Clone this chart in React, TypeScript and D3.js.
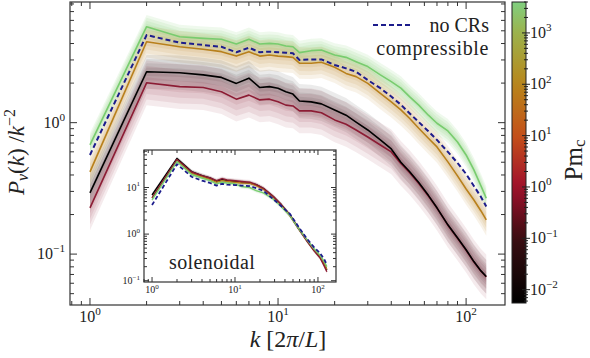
import React, { useEffect, useRef } from 'react';
import * as d3 from 'd3';

// main panel: compressible driving, P_v(k)/k^-2
const kMain = [1, 2, 3, 4, 5, 6, 7, 8, 9, 10, 11, 12, 13, 15, 17, 20, 23, 26, 30, 35, 40, 45, 50, 56, 63, 70, 80, 90, 100, 110, 120, 128];
const pvGreen = [0.677, 5.37, 4.51, 4.38, 4.31, 3.97, 4.31, 3.97, 4.01, 3.97, 3.83, 3.78, 3.41, 3.53, 3.57, 3.27, 3.14, 2.91, 2.67, 2.31, 2.05, 1.83, 1.58, 1.36, 1.14, 0.99, 0.865, 0.713, 0.568, 0.437, 0.33, 0.266];
const pvNoCR = [0.568, 4.64, 4.06, 3.9, 3.78, 3.43, 3.72, 3.43, 3.47, 3.43, 3.41, 3.37, 3.0, 3.03, 3.03, 2.75, 2.59, 2.44, 2.11, 1.83, 1.58, 1.37, 1.18, 1.01, 0.86, 0.739, 0.599, 0.494, 0.407, 0.33, 0.272, 0.23];
const pvOrange = [0.422, 4.13, 3.78, 3.62, 3.47, 3.21, 3.47, 3.21, 3.27, 3.21, 3.18, 3.14, 2.84, 2.83, 2.88, 2.64, 2.37, 2.24, 1.99, 1.67, 1.44, 1.25, 1.08, 0.906, 0.761, 0.654, 0.503, 0.394, 0.313, 0.258, 0.213, 0.182];
const pvBlack = [0.292, 2.44, 2.4, 2.31, 2.21, 1.99, 2.18, 1.85, 1.88, 1.83, 1.72, 1.65, 1.46, 1.44, 1.39, 1.25, 1.14, 1.01, 0.88, 0.739, 0.631, 0.5, 0.425, 0.35, 0.28, 0.225, 0.167, 0.133, 0.108, 0.0877, 0.0745, 0.0675];
const pvMaroon = [0.225, 2.01, 1.88, 1.85, 1.72, 1.51, 1.62, 1.49, 1.51, 1.44, 1.36, 1.34, 1.23, 1.23, 1.19, 1.05, 0.972, 0.88, 0.778, 0.676, 0.599, 0.49, 0.418, 0.345, 0.277, 0.224, 0.166, 0.132, 0.107, 0.087, 0.074, 0.067];

// inset: solenoidal driving
const kIns = [1, 2, 3, 4, 5, 6, 7, 8, 10, 12, 15, 18, 22, 29, 36, 46, 58, 73, 90, 106, 120, 128];
const insBlack = [6.9, 42, 22, 18, 16, 13.5, 15, 14, 13.5, 13, 12.5, 11.5, 9.5, 6.3, 4.3, 2.55, 1.35, 0.74, 0.45, 0.32, 0.22, 0.17];
const insMaroon = [6.0, 40, 21.5, 18, 16, 14, 15.5, 14.5, 14, 13.5, 13, 11.5, 9.6, 6.4, 4.3, 2.55, 1.35, 0.73, 0.44, 0.31, 0.2, 0.156];
const insOrange = [5.9, 39, 20, 17, 15, 13, 14, 13.5, 13, 12.5, 12.5, 11, 9.2, 6.2, 4.2, 2.5, 1.33, 0.74, 0.45, 0.32, 0.22, 0.175];
const insGreen = [5.4, 36, 19, 16, 14, 12, 13, 12.5, 12, 10.5, 10, 8.6, 7.7, 5.6, 3.9, 2.5, 1.35, 0.77, 0.48, 0.35, 0.25, 0.2];
const insNoCR = [4.2, 31.7, 17, 14, 12.5, 11, 12, 11.5, 11.3, 11, 10.7, 9.7, 8.5, 5.6, 4.0, 2.7, 1.45, 0.81, 0.52, 0.39, 0.28, 0.217];

// band half-widths (dex)
const spreadMain = { green: 0.09, orange: 0.12, black: 0.13, maroon: 0.17 };
const spreadIns = 0.05;

// colorbar
const cbLogStops = [-2.26, -1, 0, 1, 2, 3, 3.6];
const cbColors = ['#000000', '#3a0e12', '#a0102c', '#c4501a', '#b8861b', '#9cb24c', '#80d080'];
const cbTicks = [0.01, 0.1, 1, 10, 100, 1000];

const lineColors = { green: '#78cc6e', orange: '#b8801c', black: '#000000', maroon: '#8c1c34', nocr: '#1c1c8c' };
const FONT = 'Liberation Serif, serif';

function logTicks(lo, hi) {
  const major = [], minor = [];
  for (let e = Math.floor(Math.log10(lo)); e <= Math.ceil(Math.log10(hi)); e++) {
    for (let d = 1; d <= 9; d++) {
      const v = d * Math.pow(10, e);
      if (v < lo * 0.999 || v > hi * 1.001) continue;
      (d === 1 ? major : minor).push(v);
    }
  }
  return { major, minor };
}

function powLabel(g, x, y, exp, size, anchor) {
  const t = g.append('text').attr('x', x).attr('y', y).attr('text-anchor', anchor)
    .style('font-family', FONT).attr('font-size', size).attr('fill', '#222');
  t.append('tspan').text('10');
  t.append('tspan').attr('dy', -size * 0.42).attr('font-size', size * 0.7).text(exp < 0 ? '\u2212' + (-exp) : String(exp));
  return t;
}

function frame(g, x, y, x0, x1, y0, y1, majLen, minLen) {
  const xt = logTicks(...x.domain());
  const yt = logTicks(...y.domain());
  const tk = g.append('g').attr('stroke', '#333').attr('stroke-width', 1);
  const put = (vals, len, isX) => vals.forEach(v => {
    if (isX) {
      const p = x(v);
      tk.append('line').attr('x1', p).attr('x2', p).attr('y1', y1).attr('y2', y1 - len);
      tk.append('line').attr('x1', p).attr('x2', p).attr('y1', y0).attr('y2', y0 + len);
    } else {
      const p = y(v);
      tk.append('line').attr('y1', p).attr('y2', p).attr('x1', x0).attr('x2', x0 + len);
      tk.append('line').attr('y1', p).attr('y2', p).attr('x1', x1).attr('x2', x1 - len);
    }
  });
  put(xt.major, majLen, true);
  put(xt.minor, minLen, true);
  put(yt.major, majLen, false);
  put(yt.minor, minLen, false);
  g.append('rect').attr('x', x0).attr('y', y0).attr('width', x1 - x0).attr('height', y1 - y0)
    .attr('fill', 'none').attr('stroke', '#333').attr('stroke-width', 1.2);
  return { xt, yt };
}

function bands(g, x, y, k, vals, color, s, clip, op) {
  [1, 0.75, 0.5, 0.25].forEach(f => {
    const area = d3.area()
      .x((d, i) => x(k[i]))
      .y0(d => y(d * Math.pow(10, -s * f)))
      .y1(d => y(d * Math.pow(10, s * f)));
    g.append('path').datum(vals).attr('d', area).attr('fill', color)
      .attr('fill-opacity', op).attr('clip-path', clip);
  });
}

function curve(g, x, y, k, vals, color, w, dash) {
  const line = d3.line().x((d, i) => x(k[i])).y(d => y(d));
  const p = g.append('path').datum(vals).attr('d', line).attr('fill', 'none')
    .attr('stroke', color).attr('stroke-width', w).attr('stroke-linejoin', 'round');
  if (dash) p.attr('stroke-dasharray', dash);
}

const App = () => {
  const svgRef = useRef(null);

  useEffect(() => {
    const svg = d3.select(svgRef.current);
    svg.selectAll('*').remove();

    const L = 70, R = 505, T = 2, B = 305;
    const x = d3.scaleLog().domain([0.783, 161]).range([L, R]);
    const y = d3.scaleLog().domain([0.041, 8.28]).range([B, T]);

    const defs = svg.append('defs');
    defs.append('clipPath').attr('id', 'mainclip').append('rect')
      .attr('x', L).attr('y', T).attr('width', R - L).attr('height', B - T);

    const main = svg.append('g');

    // shaded spreads
    bands(main, x, y, kMain, pvGreen, lineColors.green, spreadMain.green, 'url(#mainclip)', 0.12);
    bands(main, x, y, kMain, pvOrange, lineColors.orange, spreadMain.orange, 'url(#mainclip)', 0.1);
    bands(main, x, y, kMain, pvBlack, '#000', spreadMain.black, 'url(#mainclip)', 0.08);
    bands(main, x, y, kMain, pvMaroon, lineColors.maroon, spreadMain.maroon, 'url(#mainclip)', 0.09);

    curve(main, x, y, kMain, pvGreen, lineColors.green, 1.6);
    curve(main, x, y, kMain, pvOrange, lineColors.orange, 1.6);
    curve(main, x, y, kMain, pvMaroon, lineColors.maroon, 1.6);
    curve(main, x, y, kMain, pvBlack, lineColors.black, 1.6);
    curve(main, x, y, kMain, pvNoCR, lineColors.nocr, 2, '5,3');

    const { xt, yt } = frame(main, x, y, L, R, T, B, 7, 4);
    xt.major.forEach(v => powLabel(main, x(v), 322, Math.round(Math.log10(v)), 16, 'middle'));
    yt.major.forEach(v => powLabel(main, 65, y(v) + 5, Math.round(Math.log10(v)), 16, 'end'));

    // axis labels
    const yl = main.append('text').attr('transform', 'translate(24,152) rotate(-90)')
      .attr('text-anchor', 'middle').style('font-family', FONT).attr('font-size', 23).attr('fill', '#222');
    yl.append('tspan').attr('font-style', 'italic').text('P');
    yl.append('tspan').attr('font-style', 'italic').attr('font-size', 16).attr('dy', 4).text('v');
    yl.append('tspan').attr('dy', -4).text('(');
    yl.append('tspan').attr('font-style', 'italic').text('k');
    yl.append('tspan').text(')  /');
    yl.append('tspan').attr('font-style', 'italic').text('k');
    yl.append('tspan').attr('font-size', 16).attr('dy', -9).text('\u22122');

    const xl = main.append('text').attr('x', 288).attr('y', 347).attr('text-anchor', 'middle')
      .style('font-family', FONT).attr('font-size', 24).attr('fill', '#222');
    xl.append('tspan').attr('font-style', 'italic').text('k');
    xl.append('tspan').text(' [2');
    xl.append('tspan').attr('font-style', 'italic').text('\u03c0');
    xl.append('tspan').text('/');
    xl.append('tspan').attr('font-style', 'italic').text('L');
    xl.append('tspan').text(']');

    // legend
    main.append('line').attr('x1', 373).attr('x2', 413).attr('y1', 25).attr('y2', 25)
      .attr('stroke', lineColors.nocr).attr('stroke-width', 2).attr('stroke-dasharray', '5,3');
    main.append('text').attr('x', 489).attr('y', 32).attr('text-anchor', 'end')
      .style('font-family', FONT).attr('font-size', 20).attr('fill', '#222').text('no CRs');
    main.append('text').attr('x', 489).attr('y', 55).attr('text-anchor', 'end')
      .style('font-family', FONT).attr('font-size', 20).attr('letter-spacing', 0.6).attr('fill', '#222').text('compressible');

    // inset
    const iL = 144, iR = 336, iT = 150, iB = 282;
    const xi = d3.scaleLog().domain([0.8, 165]).range([iL, iR]);
    const yi = d3.scaleLog().domain([0.0938, 63.8]).range([iB, iT]);
    defs.append('clipPath').attr('id', 'insclip').append('rect')
      .attr('x', iL).attr('y', iT).attr('width', iR - iL).attr('height', iB - iT);
    const ins = svg.append('g');
    ins.append('rect').attr('x', iL).attr('y', iT).attr('width', iR - iL).attr('height', iB - iT).attr('fill', '#fff');
    bands(ins, xi, yi, kIns, insGreen, lineColors.green, spreadIns, 'url(#insclip)', 0.08);
    bands(ins, xi, yi, kIns, insOrange, lineColors.orange, spreadIns, 'url(#insclip)', 0.08);
    bands(ins, xi, yi, kIns, insBlack, '#000', spreadIns, 'url(#insclip)', 0.06);
    bands(ins, xi, yi, kIns, insMaroon, lineColors.maroon, spreadIns, 'url(#insclip)', 0.07);
    curve(ins, xi, yi, kIns, insBlack, lineColors.black, 1.4);
    curve(ins, xi, yi, kIns, insOrange, lineColors.orange, 1.4);
    curve(ins, xi, yi, kIns, insMaroon, lineColors.maroon, 1.4);
    curve(ins, xi, yi, kIns, insGreen, lineColors.green, 1.4);
    curve(ins, xi, yi, kIns, insNoCR, lineColors.nocr, 1.8, '4,2.5');
    const it = frame(ins, xi, yi, iL, iR, iT, iB, 5, 3);
    it.xt.major.forEach(v => powLabel(ins, xi(v), 293, Math.round(Math.log10(v)), 10, 'middle'));
    it.yt.major.forEach(v => powLabel(ins, iL - 4, yi(v) + 3, Math.round(Math.log10(v)), 10, 'end'));
    ins.append('text').attr('x', 169).attr('y', 269).style('font-family', FONT).attr('font-size', 20)
      .attr('letter-spacing', 0.4).attr('fill', '#222').text('solenoidal');

    // colorbar
    const cL = 512, cR = 526, cT = 2, cB = 303;
    const yc = d3.scaleLog().domain([0.0055, 4000]).range([cB, cT]);
    const cmap = d3.scaleLinear().domain(cbLogStops).range(cbColors).interpolate(d3.interpolateRgb);
    const grad = defs.append('linearGradient').attr('id', 'cbgrad')
      .attr('x1', 0).attr('x2', 0).attr('y1', 1).attr('y2', 0);
    d3.range(0, 1.0001, 0.05).forEach(t => {
      const lv = cbLogStops[0] + t * (cbLogStops[cbLogStops.length - 1] - cbLogStops[0]);
      grad.append('stop').attr('offset', t).attr('stop-color', cmap(lv));
    });
    svg.append('rect').attr('x', cL).attr('y', cT).attr('width', cR - cL).attr('height', cB - cT)
      .attr('fill', 'url(#cbgrad)').attr('stroke', '#222').attr('stroke-width', 1);
    const ct = logTicks(...yc.domain());
    const cg = svg.append('g').attr('stroke', '#222').attr('stroke-width', 1);
    ct.major.forEach(v => cg.append('line').attr('x1', cR - 4).attr('x2', cR + 4).attr('y1', yc(v)).attr('y2', yc(v)));
    ct.minor.forEach(v => cg.append('line').attr('x1', cR - 2).attr('x2', cR + 2).attr('y1', yc(v)).attr('y2', yc(v)));
    cbTicks.forEach(v => powLabel(svg, 530, yc(v) + 5, Math.round(Math.log10(v)), 16, 'start'));
    const pl = svg.append('text').attr('transform', 'translate(582,160) rotate(-90)')
      .attr('text-anchor', 'middle').style('font-family', FONT).attr('font-size', 25).attr('fill', '#222');
    pl.append('tspan').text('Pm');
    pl.append('tspan').attr('font-size', 17).attr('dy', 3).text('c');
  }, []);

  return (
    <svg ref={svgRef} width={590} height={358}
      style={{ position: 'absolute', left: 0, top: 0, background: '#fff' }} />
  );
};

export default App;
